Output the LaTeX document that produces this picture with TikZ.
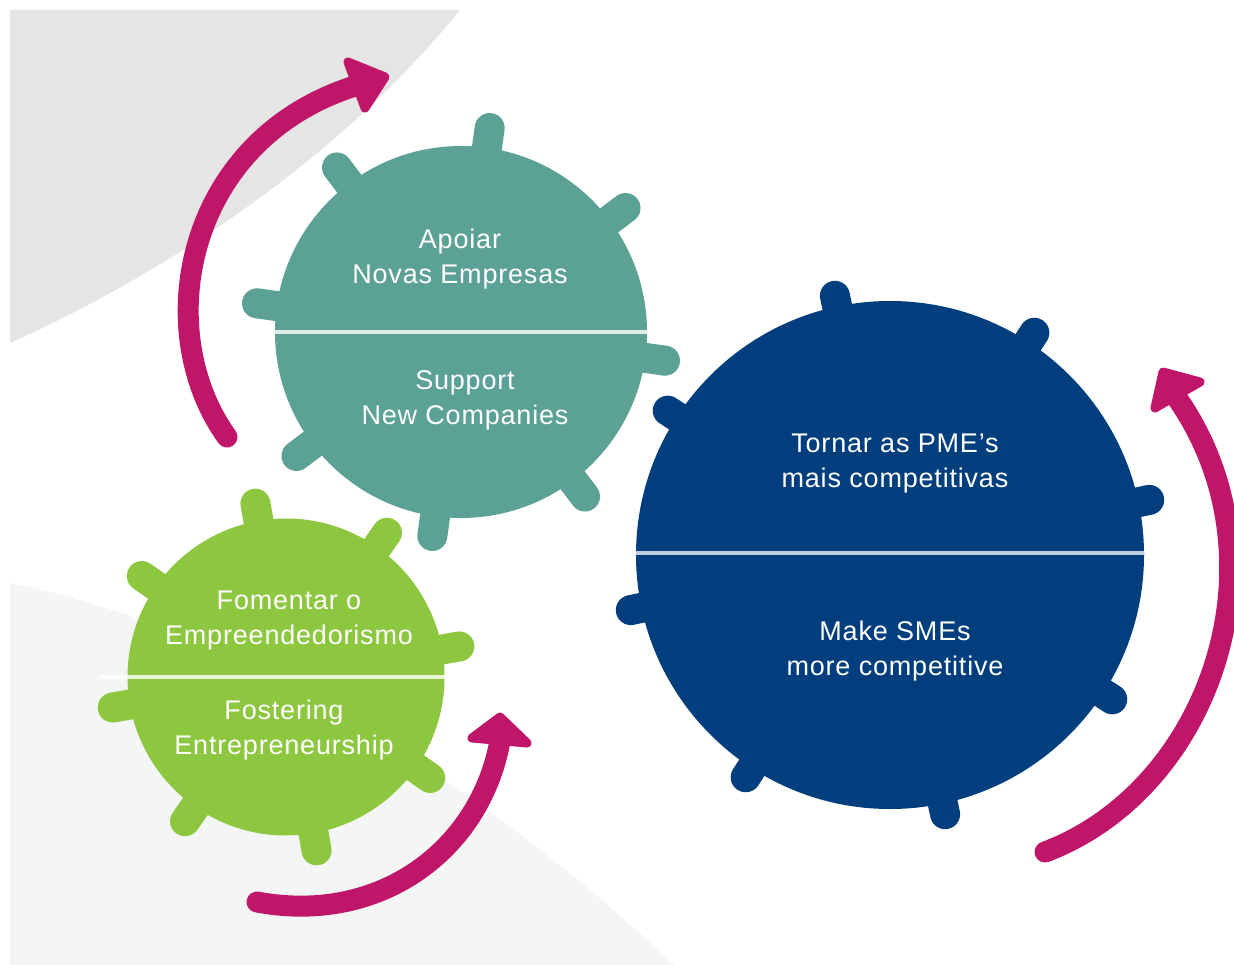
\documentclass[tikz,border=0pt]{standalone}
\usepackage{fontspec}
\setmainfont{Liberation Sans}
\usetikzlibrary{calc}
\definecolor{tealg}{RGB}{92,161,149}
\definecolor{greeng}{RGB}{141,198,63}
\definecolor{navyg}{RGB}{0,62,125}
\definecolor{mag}{RGB}{192,22,106}
\definecolor{bggray}{RGB}{229,229,229}
\definecolor{bglight}{RGB}{244,246,245}
\begin{document}
\begin{tikzpicture}[x=1pt,y=-1pt,
  gearbody/.style={circle,inner sep=0pt,minimum size=#1},
  tooth/.style={line width=30pt,line cap=round},
  divider/.style={draw=white,draw opacity=0.8,line width=4pt},
  gtext/.style={text=white,align=center,font=\fontsize{27}{35}\selectfont\addfontfeatures{LetterSpace=3}},
  shaft/.style={draw=mag,line width=21pt,line cap=round},
  headtip/.style={fill=mag,draw=mag,line width=9pt,line join=round}]
\useasboundingbox (0,0) rectangle (1234,965);
\fill[white] (0,0) rectangle (1234,965);
% backgrounds
\fill[bggray] (10,10) -- (460,10) .. controls (330,170) and (150,280) .. (10,343) -- cycle;
\fill[bglight] (10,583) .. controls (250,630) and (500,800) .. (674,965) -- (10,965) -- cycle;

% green gear
\node[gearbody=317pt,fill=greeng] (green) at (286,677) {};
\foreach \a in {10,55,...,325}
  \draw[greeng,tooth] ($(green.center)+(\a:140pt)$) -- ($(green.center)+(\a:176pt)$);
\draw[divider] ($(green.west)+(-28,0)$) -- (green.east);

% teal gear
\node[gearbody=372pt,fill=tealg] (teal) at (461,332) {};
\foreach \a in {37,82,...,352}
  \draw[tealg,tooth] ($(teal.center)+(\a:160pt)$) -- ($(teal.center)+(\a:206pt)$);
\draw[divider] (teal.west) -- (teal.east);

% navy gear
\node[gearbody=508pt,fill=navyg] (navy) at (890,555) {};
\foreach \a in {12,57,...,327}
  \draw[navyg,tooth] ($(navy.center)+(\a:230pt)$) -- ($(navy.center)+(\a:265pt)$);
\draw[divider,draw opacity=0.75] ($(navy.west)+(0,-2)$) -- ($(navy.east)+(0,-2)$);

% texts
\node[gtext] (tealtop) at (460,259) {Apoiar\\Novas Empresas};
\node[gtext] (tealbot) at (465,400) {Support\\New Companies};
\node[gtext] (navytop) at (895,464) {Tornar as PME's\\mais competitivas};
\node[gtext] (navybot) at (895,651) {Make SMEs\\more competitive};
\node[gtext] (greentop) at (289,621) {Fomentar o\\Empreendedorismo};
\node[gtext] (greenbot) at (284,730) {Fostering\\Entrepreneurship};

% arrows
\coordinate (a1tail) at (227,437);
\coordinate (a1base) at (355,86);
\draw[shaft] (a1tail) .. controls (150,330) and (185,140) .. (a1base);
\filldraw[headtip] (348,62) -- (385,77) -- (365,108) -- cycle;

\coordinate (a2tail) at (257,902);
\coordinate (a2base) at (500,741);
\draw[shaft] (a2tail) .. controls (380,925) and (480,850) .. (a2base);
\filldraw[headtip] (500,717) -- (527,743) -- (472,738) -- cycle;

\coordinate (a3tail) at (1045,852);
\coordinate (a3base) at (1177,398);
\draw[shaft] (a3tail) .. controls (1210,790) and (1290,560) .. (a3base);
\filldraw[headtip] (1163,372) -- (1200,382) -- (1155,408) -- cycle;
\end{tikzpicture}
\end{document}
